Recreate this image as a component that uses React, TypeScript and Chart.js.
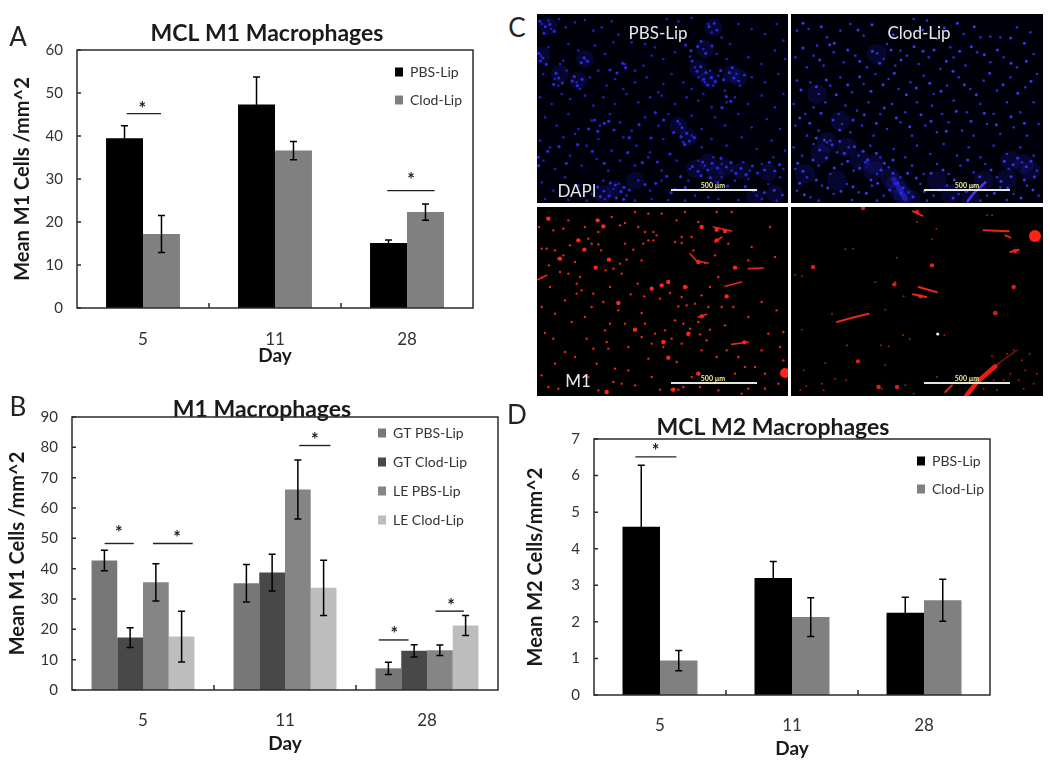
import React, { useEffect, useRef } from "react";
import { Chart, registerables } from "chart.js";

Chart.register(...registerables);

const FONT = "Lato";
const days = ["5", "11", "28"];

// Panel A
const aPbs = [39.5, 47.3, 15.1];
const aPbsErr = [2.9, 6.4, 0.7];
const aClod = [17.2, 36.6, 22.3];
const aClodErr = [4.3, 2.1, 1.9];
const aSig = [
  { from: -0.123, to: 0.136, value: 45.2, star: -0.005, starValue: 46.8 },
  { from: 1.85 + 0.0, to: 2.21, value: 27.3, star: 2.03, starValue: 30.1 },
];

// Panel B
const bGtPbs = [42.7, 35.2, 7.15];
const bGtPbsErr = [3.4, 6.2, 2.0];
const bGtClod = [17.3, 38.7, 12.9];
const bGtClodErr = [3.25, 6.05, 2.0];
const bLePbs = [35.5, 66.1, 13.1];
const bLePbsErr = [6.15, 9.75, 1.75];
const bLeClod = [17.6, 33.7, 21.3];
const bLeClodErr = [8.4, 9.1, 3.3];
const bSig = [
  { from: -0.27, to: -0.065, value: 48.3, star: -0.17, starValue: 52.5 },
  { from: 0.07, to: 0.35, value: 48.3, star: 0.24, starValue: 50.8 },
  { from: 1.1, to: 1.32, value: 80.6, star: 1.21, starValue: 83 },
  { from: 1.66, to: 1.87, value: 16.5, star: 1.77, starValue: 19 },
  { from: 2.06, to: 2.26, value: 26, star: 2.17, starValue: 28.3 },
];

// Panel D
const dPbs = [4.6, 3.2, 2.25];
const dPbsErr = [1.68, 0.45, 0.42];
const dClod = [0.94, 2.13, 2.59];
const dClodErr = [0.28, 0.53, 0.575];
const dSig = [{ from: -0.187, to: 0.124, value: 6.51, star: -0.033, starValue: 6.72 }];

// Panel C, cell positions
const dapiPbsDots = [[20,30],[40,20],[48,45],[72,15],[92,40],[120,25],[150,18],[175,50],[200,40],[230,22],[250,62],[290,85],[330,90],[360,100],[395,15],[430,22],[470,12],[520,30],[530,55],[560,70],[585,90],[610,30],[650,45],[690,60],[725,30],[745,80],
[18,125],[40,100],[75,150],[85,140],[100,90],[130,110],[150,135],[180,95],[210,120],[235,85],[270,150],[300,170],[325,155],[350,125],[385,135],[420,115],[465,128],[480,160],[505,105],[525,170],[545,120],[575,135],[605,180],[640,130],[680,150],[720,110],[750,135],
[25,180],[60,195],[70,215],[95,170],[125,205],[135,225],[165,190],[190,170],[215,215],[240,195],[265,225],[300,205],[335,190],[370,235],[385,210],[410,180],[445,205],[470,225],[490,190],[510,205],[535,215],[550,185],[570,230],[615,215],[650,190],[690,205],[730,180],
[15,250],[50,270],[80,240],[105,255],[150,245],[175,275],[205,250],[240,270],[275,240],[310,265],[345,250],[380,245],[420,270],[455,250],[490,260],[505,240],[530,280],[575,265],[600,250],[640,270],[680,245],[720,280],[745,240],
[30,310],[65,335],[100,300],[130,345],[170,320],[195,335],[225,300],[255,325],[290,350],[330,310],[370,335],[400,300],[435,330],[470,305],[500,345],[540,310],[570,335],[610,300],[650,340],[695,315],[735,345],
[15,380],[45,400],[85,370],[120,360],[155,395],[190,375],[230,410],[265,370],[305,395],[345,415],[385,375],[445,385],[470,365],[500,400],[530,375],[575,395],[620,370],[665,405],[710,380],[750,410],
[25,440],[60,465],[105,425],[140,455],[185,435],[220,470],[255,440],[300,455],[340,430],[380,470],[425,440],[465,465],[490,440],[510,455],[535,430],[560,450],[590,470],[625,445],[645,470],[680,450],[715,430],[745,465],
[20,505],[55,530],[90,490],[130,515],[170,540],[205,500],[235,525],[250,510],[275,545],[310,500],[345,530],[380,500],[420,525],[460,500],[480,545],[520,550],[560,490],[600,500],[640,495],[665,545],[700,510],[735,490],
[30,555],[100,558],[155,560],[210,555],[300,560],[350,555],[400,558],[450,560],[550,555],[610,558],[680,555],[725,560]];
const dapiPbsExtra = [[14,22],[31,38],[44,31],[58,52],[27,58],[11,118],[24,132],[16,141],[34,151],[63,178],[71,192],[82,207],[56,211],[118,188],[127,215],[141,196],[112,201],[147,131],[158,142],[139,146],[263,148],[272,161],[246,177],[225,168],
[452,93],[468,110],[488,98],[512,118],[498,82],[531,96],[522,38],[538,28],[546,48],[471,141],[486,172],[497,158],[513,176],[529,191],[506,196],[518,213],[541,203],[557,170],[566,197],[583,176],[597,192],[611,201],[628,183],[592,161],[574,248],[587,262],[561,281],
[428,322],[441,341],[455,358],[438,368],[463,381],[478,371],[449,392],[416,356],[179,318],[208,328],[188,352],[161,345],[237,348],[221,322],[312,332],[283,371],[348,372],[386,318],[361,296],
[472,458],[489,472],[503,444],[518,468],[531,448],[547,462],[558,433],[574,459],[588,446],[603,478],[618,463],[633,482],[652,456],[668,477],[689,468],[703,445],[719,471],[734,452],[498,485],[526,491],[548,506],[578,516],[631,518],[656,530],[688,536],[718,529],[742,543],
[188,519],[207,531],[222,546],[241,513],[258,533],[267,520],[283,528],[226,507],[196,548],[244,552],[266,556],[330,512],[362,508],[395,487],[408,536],[437,488],[451,521],[10,430],[38,412],[11,455],[72,398],[94,448],[128,392],[172,412],[208,448],[278,416],[322,446],[367,444],[405,420]];
const dapiPbsHaze = [[20,125],[40,35],[130,200],[75,180],[150,135],[510,105],[490,165],[520,195],[610,190],[535,40],[430,335],[460,370],[520,445],[480,465],[620,470],[700,475],[240,525],[205,540],[660,550],[720,540],[300,500],[570,460],[540,480],[590,180]];
const dapiClodDots = [[60,50],[95,45],[120,95],[150,70],[190,50],[220,30],[260,65],[300,118],[330,90],[370,110],[410,15],[450,20],[480,75],[520,100],[560,60],[610,70],[640,68],[670,70],[720,40],[760,55],
[55,130],[90,160],[110,125],[140,155],[170,115],[200,145],[235,125],[270,160],[320,135],[355,155],[390,125],[425,150],[455,130],[490,165],[530,130],[565,155],[600,115],[640,145],[680,130],[720,160],[770,120],
[60,200],[100,205],[125,240],[160,215],[190,190],[225,235],[260,210],[295,180],[335,195],[365,225],[400,205],[440,185],[470,240],[510,215],[545,190],[580,225],[620,200],[660,230],[700,190],[745,220],[780,180],
[50,270],[85,300],[110,280],[145,265],[185,300],[205,275],[240,290],[275,265],[310,300],[345,270],[385,295],[420,265],[465,275],[495,300],[530,260],[570,295],[610,270],[650,300],[690,265],[730,295],[770,265],
[55,335],[90,365],[125,350],[160,380],[195,330],[220,355],[255,335],[290,365],[330,345],[370,325],[405,365],[445,335],[480,355],[515,325],[555,350],[590,365],[630,330],[670,360],[710,340],[750,365],[785,330],
[50,400],[75,425],[110,390],[150,385],[180,415],[215,400],[245,425],[280,395],[310,430],[350,405],[385,430],[420,395],[460,420],[500,390],[540,425],[575,400],[610,430],[650,395],[690,420],[730,400],[770,425],
[55,465],[90,490],[125,455],[160,480],[195,450],[230,470],[265,445],[300,480],[335,460],[370,490],[405,455],[440,480],[480,450],[515,480],[550,455],[590,475],[625,450],[660,490],[695,465],[735,445],[780,470],
[60,530],[100,550],[135,515],[170,540],[210,510],[245,535],[285,515],[320,545],[355,510],[395,535],[430,510],[470,545],[510,515],[545,540],[590,515],[630,545],[670,520],[710,540],[750,515],[785,545],[125,560],[225,558],[300,560],[450,560],[610,560],[690,558]];
const dapiClodExtra = [[78,28],[133,38],[172,88],[243,48],[285,32],[349,62],[395,72],[437,48],[502,42],[541,28],[592,38],[701,72],[742,88],[78,102],[128,138],[158,92],[212,108],[248,142],[286,112],[308,148],[342,108],[372,138],[411,98],[438,112],[471,108],[508,142],[548,112],[583,98],[622,122],[661,108],[702,148],[748,142],
[72,228],[118,218],[148,198],[178,242],[212,212],[248,188],[282,232],[318,212],[352,178],[388,242],[418,222],[458,208],[492,232],[528,172],[562,212],[598,242],[638,178],[678,212],[722,238],[762,202],
[68,312],[98,328],[132,298],[168,318],[188,348],[228,318],[262,302],[298,328],[322,282],[358,312],[398,338],[432,302],[462,322],[508,352],[538,292],[582,322],[622,298],[658,332],[702,308],[742,328],
[118,372],[142,378],[165,392],[128,408],[188,382],[202,418],[232,398],[258,412],[272,438],[298,418],[322,448],[348,438],[62,448],[78,472],[108,438],[148,432],[172,462],[212,442],[248,462],[282,498],[312,468],[348,478],[362,508],[378,522],[392,478],[418,492],[462,478],[498,468],[532,498],[572,438],[608,488],[642,468],[682,442],[708,452],[722,432],[748,458],[762,442],[772,488],[742,498],[702,488],[672,502],
[68,508],[82,542],[118,498],[152,522],[192,532],[228,518],[268,538],[302,508],[338,528],[372,538],[408,548],[442,532],[488,528],[528,552],[568,532],[652,538],[692,522],[732,552],[768,528]];
const dapiClodHaze = [[150,385],[130,420],[210,400],[250,440],[290,470],[340,490],[365,530],[400,555],[290,450],[580,555],[620,500],[700,440],[740,450],[760,470],[690,495],[120,240],[300,120],[190,320],[85,480],[180,500],[480,500],[520,540],[355,510],[380,545]];
const dapiClodStreak = [[572,562],[590,538],[625,505]];
const dapiClodStreakB = [[350,495],[385,555]];
const m1PbsDots = [[40,35],[12,60],[188,40],[205,58],[190,75],[230,30],[270,48],[310,60],[355,75],[380,20],[425,40],[490,45],[500,60],[470,90],[440,90],[420,105],[325,110],[355,100],[270,110],[190,112],[150,128],[130,100],[105,115],[70,155],[85,145],[220,158],[275,158],[320,160],[255,170],[180,182],[212,190],[235,185],[260,200],[20,212],[75,195],[100,200],[135,210],[490,165],[510,168],[475,130],[600,182],[400,225],[380,235],[350,245],[225,240],[175,260],[140,250],[125,260],[250,288],[287,262],[328,268],[375,275],[405,258],[455,240],[500,265],[575,268],[680,285],[430,298],[455,295],[490,345],[445,350],[465,365],[460,385],[495,382],[525,368],[300,368],[270,350],[225,350],[210,370],[390,370],[388,405],[385,420],[360,380],[215,405],[220,425],[545,450],[400,452],[425,465],[515,400],[90,435],[120,450],[185,470],[240,485],[280,490],[340,455],[40,540],[70,545],[190,550],[215,555],[235,525],[300,535],[375,548],[410,548],[430,548],[495,540],[550,550],[620,560],[600,500],[660,480],[690,500],[630,480],[20,300],[30,378],[60,320],[110,345],[150,330],[170,300],[320,318],[250,310],[350,410],[320,390],[480,290],[420,340],[520,300],[595,300],[640,160],[540,145],[650,120],[580,110],[55,70],[85,65],[100,40],[150,60],[160,95],[35,125],[20,125],[340,20],[300,15],[450,15],[545,15],[590,15],[720,150],[705,60],[700,380],[745,375],[745,460],[725,310],[640,330],[570,355],[680,430],[610,450],[730,530],[690,545],[640,545],[60,470],[155,395],[90,280],[45,240],[560,300],[735,420],[340,100],[365,85],[440,108],[330,75],[255,55],[295,128],[170,110],[120,165],[198,130],[60,130],[42,175],[125,230],[205,285],[308,230],[440,270],[525,240],[550,210],[175,425],[280,420],[330,350],[410,395],[440,410],[575,430],[500,430],[470,510],[445,540],[350,510],[260,530],[160,510],[110,530],[20,505],[55,395]];
const m1PbsBlobs = [[545,68],[400,225],[500,328],[400,452],[490,165],[250,288],[75,155],[222,158],[182,182],[600,182],[40,35],[188,40],[215,555],[490,500],[415,548],[575,268],[300,368],[350,245],[380,235],[205,58],[148,128],[450,240],[500,60],[385,405],[460,380],[130,100],[545,100],[570,72],[628,406]];
const m1PbsBig = [[750,498]];
const m1PbsStreaks = [[[465,140],[485,162],[520,168]],[[535,60],[590,72]],[[540,105],[560,90]],[[640,185],[685,183]],[[570,238],[620,225]],[[590,412],[640,405]],[[8,218],[35,205]],[[490,330],[515,322]]];
const m1ClodDots = [[258,3],[205,127],[228,125],[360,152],[465,97],[478,65],[420,45],[630,25],[645,25],[55,203],[75,208],[295,225],[355,225],[380,268],[650,318],[710,240],[325,308],[165,320],[75,368],[378,384],[398,396],[502,384],[335,418],[312,415],[210,415],[145,468],[325,475],[80,490],[175,515],[207,520],[135,530],[140,550],[70,550],[88,538],[300,538],[315,545],[385,535],[410,560],[480,510],[645,448],[665,470],[690,440],[710,430],[735,460],[758,440],[780,500],[700,500],[680,520],[745,490],[770,530],[740,545],[660,550],[620,545],[650,520],[725,520]];
const m1ClodBlobs = [[108,180],[243,463],[430,268],[352,232],[465,175],[360,540],[710,240],[420,15],[714,132],[655,318],[305,540],[258,3]];
const m1ClodBig = [[774,87]];
const m1ClodWhite = [[482,381]];
const m1ClodStreaks = [[[620,70],[695,73]],[[180,345],[225,332],[275,320]],[[408,262],[448,270]],[[425,240],[480,256]],[[408,13],[436,26]],[[505,555],[525,535]],[[685,85],[700,92]],[[700,135],[725,128]]];
const m1ClodBigStreak = [[568,566],[600,525],[655,478]];
const m1ClodThinStreak = [[660,472],[720,430]];

type Sig = { from: number; to: number; value: number; star: number; starValue: number };

type BarSpec = {
  title: string; titleX: number; titleY: number; titleSize: number;
  yTitle: string; yTitleX: number; yMax: number; step: number;
  series: { label: string; color: string; values: number[]; errors: number[] }[];
  sig: Sig[]; group: number;
  width: number; height: number; left: number; right: number; top: number; bottom: number;
  legendX: number; legendY: number; legendGap: number;
  tickPad: number; dayPad: number;
};

function makeBar(canvas: HTMLCanvasElement, s: BarSpec) {
  const AXIS = "#2b2b2b";
  const TITLE_H = s.titleSize;
  const LEG_FONT = 14;
  const legPad = s.legendGap - LEG_FONT;
  const panelPlugin = {
    id: "panelDecor",
    beforeDraw(chart: any) {
      const t = chart.titleBlock;
      t.left = s.titleX - 150; t.right = s.titleX + 150;
      t.top = s.titleY - TITLE_H / 2; t.bottom = t.top + TITLE_H;
      const l = chart.legend;
      l.left = s.legendX - legPad; l.right = s.width;
      l.top = s.legendY - LEG_FONT / 2 - legPad; l.bottom = s.height;
    },
    afterDatasetsDraw(chart: any) {
      const { ctx, chartArea: a, scales } = chart;
      const x = scales.x, y = scales.y;
      ctx.save();
      ctx.strokeStyle = "#000";
      ctx.lineWidth = 1.5;
      s.series.forEach((ser, i) => {
        const meta = chart.getDatasetMeta(i);
        ser.values.forEach((v, j) => {
          const px = meta.data[j].x;
          const hi = y.getPixelForValue(v + ser.errors[j]);
          const lo = y.getPixelForValue(v - ser.errors[j]);
          ctx.beginPath();
          ctx.moveTo(px, hi); ctx.lineTo(px, lo);
          ctx.moveTo(px - 3.5, hi); ctx.lineTo(px + 3.5, hi);
          ctx.moveTo(px - 3.5, lo); ctx.lineTo(px + 3.5, lo);
          ctx.stroke();
        });
      });
      ctx.strokeStyle = AXIS;
      ctx.lineWidth = 1.5;
      ctx.strokeRect(a.left, a.top, a.right - a.left, a.bottom - a.top);
      ctx.beginPath();
      y.ticks.forEach((t: any) => {
        const py = y.getPixelForValue(t.value);
        ctx.moveTo(a.left, py); ctx.lineTo(a.left + 4, py);
      });
      [0.5, 1.5].forEach((v) => {
        const px = x.getPixelForValue(v);
        ctx.moveTo(px, a.bottom); ctx.lineTo(px, a.bottom - 5);
      });
      ctx.stroke();
      ctx.strokeStyle = "#222";
      ctx.fillStyle = "#222";
      ctx.lineWidth = 1.4;
      ctx.font = `bold 18px ${FONT}`;
      ctx.textAlign = "center";
      ctx.textBaseline = "middle";
      s.sig.forEach((g) => {
        const py = y.getPixelForValue(g.value);
        ctx.beginPath();
        ctx.moveTo(x.getPixelForValue(g.from), py);
        ctx.lineTo(x.getPixelForValue(g.to), py);
        ctx.stroke();
        ctx.fillText("*", x.getPixelForValue(g.star), y.getPixelForValue(g.starValue) + 2);
      });
      ctx.restore();
    },
  };
  return new Chart(canvas, {
    type: "bar",
    data: {
      labels: days,
      datasets: s.series.map((ser) => ({
        label: ser.label,
        data: ser.values,
        backgroundColor: ser.color,
        borderWidth: 0,
        barPercentage: 1,
        categoryPercentage: s.group,
      })),
    },
    options: {
      responsive: false,
      animation: false,
      layout: {
        autoPadding: false,
        padding: { left: 0, top: s.top - TITLE_H, right: s.width - s.right, bottom: 0 },
      },
      plugins: {
        tooltip: { enabled: false },
        title: {
          display: true, text: s.title, color: "#1a1a1a", padding: 0,
          font: { family: FONT, weight: "bold", size: s.titleSize, lineHeight: 1 },
        },
        legend: {
          display: true, position: "chartArea", align: "start",
          labels: {
            boxWidth: 8, boxHeight: 9, padding: legPad, color: "#333",
            font: { family: FONT, size: LEG_FONT, lineHeight: 1.2 },
          },
        },
      },
      scales: {
        x: {
          afterFit(sc: any) { sc.height = s.height - s.bottom; },
          grid: { display: false, drawTicks: false },
          border: { display: false },
          ticks: { padding: s.tickPad, color: "#333", font: { family: FONT, size: 17 }, maxRotation: 0 },
          title: {
            display: true, text: "Day", color: "#1a1a1a",
            padding: { top: 0, bottom: s.dayPad },
            font: { family: FONT, weight: "bold", size: 19, lineHeight: 1.2 },
          },
        },
        y: {
          afterFit(sc: any) { sc.width = s.left; },
          min: 0, max: s.yMax,
          grid: { display: false, drawTicks: false },
          border: { display: false },
          ticks: { stepSize: s.step, padding: 14, color: "#333", font: { family: FONT, size: 15 } },
          title: {
            display: true, text: s.yTitle, color: "#1a1a1a",
            padding: { top: s.yTitleX - 12, bottom: 0 },
            font: { family: FONT, weight: "bold", size: 20, lineHeight: 1.2 },
          },
        },
      },
    },
    plugins: [panelPlugin],
  } as any);
}

type MicroSet = { data: number[][]; color: string; radius?: number; line?: number };

function makeMicro(canvas: HTMLCanvasElement, xMin: number, xMax: number, sets: MicroSet[]) {
  return new Chart(canvas, {
    type: "scatter",
    data: {
      datasets: sets.map((m) => ({
        data: m.data.map(([x, y]) => ({ x, y })),
        backgroundColor: m.color,
        borderColor: m.color,
        borderWidth: m.line ?? 0,
        borderCapStyle: "round",
        showLine: !!m.line,
        pointRadius: m.radius ?? 0,
        pointBorderWidth: 0,
        clip: false,
      })),
    },
    options: {
      responsive: false,
      animation: false,
      layout: { autoPadding: false, padding: 0 },
      plugins: { legend: { display: false }, tooltip: { enabled: false }, title: { display: false } },
      scales: {
        x: { display: false, min: xMin, max: xMax },
        y: { display: false, min: 0, max: 567, reverse: true },
      },
    },
  } as any);
}

const BLUE = "#2a2ae0", DIM = "#2020b8", HAZE = "rgba(40,40,235,0.16)", RED = "#e8261a", RED2 = "#ff2418";

function streakSets(list: number[][][], line: number, color = RED): MicroSet[] {
  return list.map((data) => ({ data, color, line }));
}

const labelStyle = (x: number, y: number, size: number, color: string, weight = 400): React.CSSProperties => ({
  position: "absolute", left: x, top: y, transform: "translate(-50%,-50%)", whiteSpace: "nowrap",
  fontFamily: FONT, fontSize: size, color, fontWeight: weight, lineHeight: 1,
});

const rectStyle = (x: number, y: number, w: number, h: number): React.CSSProperties => ({
  position: "absolute", left: x, top: y, width: w, height: h, display: "block",
});

export default function App() {
  const a = useRef<HTMLCanvasElement>(null);
  const b = useRef<HTMLCanvasElement>(null);
  const d = useRef<HTMLCanvasElement>(null);
  const c1 = useRef<HTMLCanvasElement>(null);
  const c2 = useRef<HTMLCanvasElement>(null);
  const c3 = useRef<HTMLCanvasElement>(null);
  const c4 = useRef<HTMLCanvasElement>(null);

  useEffect(() => {
    const pair = (p: number[], pe: number[], q: number[], qe: number[]) => [
      { label: "PBS-Lip", color: "#000000", values: p, errors: pe },
      { label: "Clod-Lip", color: "#808080", values: q, errors: qe },
    ];
    const charts = [
      makeBar(a.current!, {
        title: "MCL M1 Macrophages", titleX: 267, titleY: 34, titleSize: 23,
        yTitle: "Mean M1 Cells /mm^2", yTitleX: 23, yMax: 60, step: 10,
        series: pair(aPbs, aPbsErr, aClod, aClodErr), sig: aSig, group: 0.56,
        width: 500, height: 380, left: 77, right: 473, top: 50, bottom: 308,
        legendX: 395, legendY: 72, legendGap: 28, tickPad: 21, dayPad: 13,
      }),
      makeBar(b.current!, {
        title: "M1 Macrophages", titleX: 262, titleY: 25, titleSize: 23,
        yTitle: "Mean M1 Cells /mm^2", yTitleX: 18, yMax: 90, step: 10,
        series: [
          { label: "GT PBS-Lip", color: "#777777", values: bGtPbs, errors: bGtPbsErr },
          { label: "GT Clod-Lip", color: "#484848", values: bGtClod, errors: bGtClodErr },
          { label: "LE PBS-Lip", color: "#858585", values: bLePbs, errors: bLePbsErr },
          { label: "LE Clod-Lip", color: "#bdbdbd", values: bLeClod, errors: bLeClodErr },
        ],
        sig: bSig, group: 0.725,
        width: 510, height: 380, left: 72, right: 498, top: 32, bottom: 305,
        legendX: 378, legendY: 48, legendGap: 29, tickPad: 20, dayPad: 10,
      }),
      makeBar(d.current!, {
        title: "MCL M2 Macrophages", titleX: 263, titleY: 23, titleSize: 23,
        yTitle: "Mean M2 Cells/mm^2", yTitleX: 26, yMax: 7, step: 1,
        series: pair(dPbs, dPbsErr, dClod, dClodErr), sig: dSig, group: 0.568,
        width: 540, height: 360, left: 84, right: 480, top: 34, bottom: 290,
        legendX: 407, legendY: 56, legendGap: 28, tickPad: 20, dayPad: 5,
      }),
      makeMicro(c1.current!, 6, 759, [
        { data: dapiPbsHaze, color: HAZE, radius: 9 },
        { data: dapiPbsDots, color: DIM, radius: 1.3 },
        { data: dapiPbsExtra, color: BLUE, radius: 1.6 },
      ]),
      makeMicro(c2.current!, 42, 798, [
        { data: dapiClodHaze, color: HAZE, radius: 10 },
        { data: dapiClodStreak, color: "#5a34f0", line: 2.5 },
        { data: dapiClodStreakB, color: "rgba(50,40,240,0.55)", line: 5 },
        { data: dapiClodDots, color: "#2c2cc8", radius: 1.3 },
        { data: dapiClodExtra, color: "#3a3aea", radius: 1.5 },
      ]),
      makeMicro(c3.current!, 6, 759, [
        { data: m1PbsBig, color: RED2, radius: 5 },
        ...streakSets(m1PbsStreaks, 1.6),
        { data: m1PbsBlobs, color: RED2, radius: 2.2 },
        { data: m1PbsDots, color: RED, radius: 1.2 },
      ]),
      makeMicro(c4.current!, 42, 798, [
        { data: m1ClodBig, color: RED2, radius: 6 },
        { data: m1ClodBigStreak, color: "#f01c10", line: 4.5 },
        { data: m1ClodThinStreak, color: "#8a1810", line: 1.2 },
        ...streakSets(m1ClodStreaks, 2),
        { data: m1ClodBlobs, color: "#d8201a", radius: 2.2 },
        { data: m1ClodDots, color: "#a01c16", radius: 1 },
        { data: m1ClodWhite, color: "#ffffff", radius: 1.5 },
      ]),
    ];
    return () => charts.forEach((c) => c.destroy());
  }, []);

  const micro = (ref: React.RefObject<HTMLCanvasElement | null>, x: number, y: number, w: number, h: number, bg: string) => (
    <div style={{ ...rectStyle(x, y, w, h), overflow: "hidden", background: bg }}>
      <canvas ref={ref} width={w} height={h} style={{ ...rectStyle(0, 0, w, h), filter: "blur(0.6px)" }} />
    </div>
  );

  return (
    <div style={{ position: "absolute", left: 0, top: 0, width: 1050, height: 765, background: "#fff", overflow: "hidden" }}>
      <canvas ref={a} width={500} height={380} style={rectStyle(0, 0, 500, 380)} />
      <canvas ref={b} width={510} height={380} style={rectStyle(0, 385, 510, 380)} />
      <canvas ref={d} width={540} height={360} style={rectStyle(510, 405, 540, 360)} />
      {micro(c1, 537, 14, 251, 189, "#00000a")}
      {micro(c2, 791, 14, 252, 189, "#00000a")}
      {micro(c3, 537, 207, 251, 189, "#000")}
      {micro(c4, 791, 207, 252, 189, "#000")}

      <div style={labelStyle(18, 36, 26, "#222")}>A</div>
      <div style={labelStyle(18, 406, 26, "#222")}>B</div>
      <div style={labelStyle(517, 27, 26, "#222")}>C</div>
      <div style={labelStyle(517, 414, 26, "#222")}>D</div>

      <div style={labelStyle(658, 32, 17, "#e8e8e8")}>PBS-Lip</div>
      <div style={labelStyle(919, 32, 17, "#e8e8e8")}>Clod-Lip</div>
      <div style={labelStyle(577, 190, 17, "#e8e8e8")}>DAPI</div>
      <div style={labelStyle(578, 380, 17, "#e8e8e8")}>M1</div>

      {[[670.5, 189], [924, 189], [670.5, 382], [924, 382]].map(([x, y], i) => (
        <div key={i} style={{ position: "absolute", left: x, top: y, width: 86, height: 1.5, background: "#e6e6e0" }} />
      ))}
      {[[713, 184.5], [967, 184.5], [713, 377.5], [967, 377.5]].map(([x, y], i) => (
        <div key={i} style={labelStyle(x, y, 7, "#f4f08a", 700)}>500 µm</div>
      ))}
    </div>
  );
}
